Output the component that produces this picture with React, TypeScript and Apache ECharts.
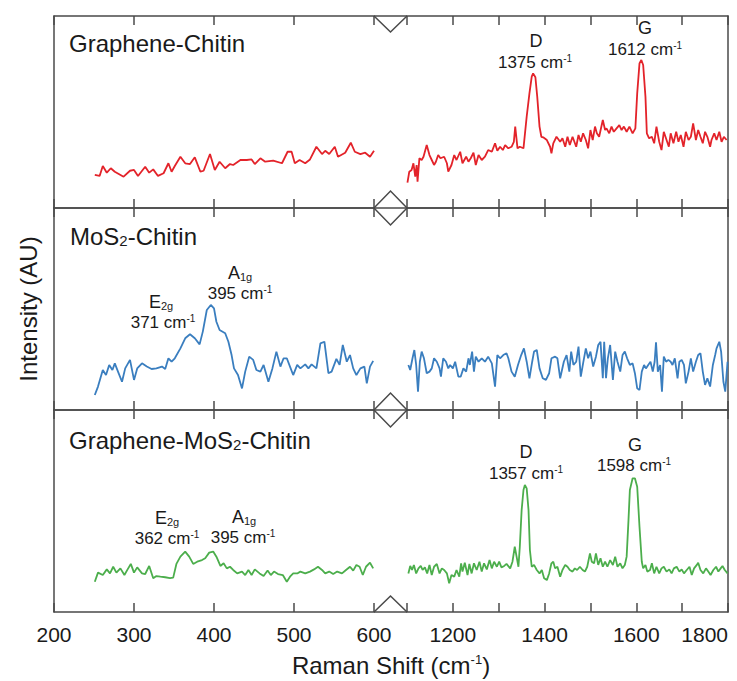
import React, { useEffect, useRef } from 'react';
import * as echarts from 'echarts';

const FONT = '"Liberation Sans", Arial, Helvetica, sans-serif';
const TEXT = '#1a1a1a';
const FRAME = '#4a4a4a';

// Graphene-Chitin
const gcLeft: [number, number][] = [
  [251,17.2],[257,16.7],[261,21.9],[266,18.4],[271,20.7],[276,18.9],[287,16.3],[295,19.4],[300,19.8],[305,16.7],
  [314,21.5],[319,18.4],[324,20.1],[330,16.7],[337,18.1],[343,23.3],[347,18.9],[351,21.9],[358,26.7],[364,23.3],
  [370,22.9],[376,26.4],[383,18.9],[387,19.4],[395,28.1],[401,19.8],[407,24.1],[414,20.7],[420,22.9],[424,22.4],
  [433,25],[441,25],[447,25.3],[451,22.9],[458,25.9],[464,24.1],[474,24.7],[485,23.3],[492,29.3],[497,29.3],
  [501,23.3],[507,25],[514,23.3],[520,25.3],[528,31.9],[535,28.1],[539,29.8],[544,28.1],[551,31.9],[555,26.7],
  [564,28.8],[571,34],[576,29.3],[583,28.1],[589,28.8],[595,26.7],[600,29.8]
];
const gcRight: [number, number][] = [
  [1101,13.2],[1105,18.9],[1110,19.8],[1114,23.3],[1118,16.3],[1121,22.4],[1123,13.7],[1127,25.9],[1132,25],[1136,26.7],
  [1143,32.8],[1149,27.6],[1154,25],[1159,22.4],[1163,24.1],[1168,27.6],[1173,25.9],[1181,26.7],[1187,23.3],[1190,18.9],
  [1197,22.4],[1203,27.6],[1208,25],[1216,29.3],[1221,23.3],[1229,26.7],[1234,24.1],[1239,25.9],[1245,28.8],[1250,22.4],
  [1256,27.6],[1263,25],[1270,26.7],[1277,30.2],[1285,29.3],[1292,33.7],[1297,29.8],[1303,31.9],[1309,30.2],[1314,32.8],
  [1321,31.1],[1328,31.9],[1333,34.5],[1336,42.4],[1341,31.1],[1346,31.9],[1354,31.1],[1361,47.6],[1367,59.7],[1372,68.4],
  [1375,70.1],[1380,68.1],[1384,58],[1389,42.4],[1393,37.1],[1397,36.8],[1405,35.4],[1412,31.9],[1415,28.5],[1419,33.7],
  [1426,37.1],[1434,34.5],[1439,36.3],[1445,31.9],[1450,37.1],[1455,32.8],[1461,37.1],[1469,31.9],[1474,38],[1479,34.5],
  [1484,38.9],[1490,35.4],[1495,31.1],[1500,40.6],[1505,35.4],[1510,42.4],[1514,38.9],[1519,37.1],[1527,45.8],[1532,40.6],
  [1535,41.5],[1541,38.9],[1546,42.4],[1551,39.7],[1557,41.5],[1563,43.2],[1568,40.6],[1573,42.4],[1579,39.7],[1585,42.4],
  [1592,38.9],[1598,41.5],[1602,59.7],[1607,75.3],[1611,77.1],[1615,74.5],[1620,58],[1623,38.9],[1628,36.3],[1634,37.1],
  [1639,33.7],[1644,42.4],[1650,34.5],[1655,30.2],[1660,39.7],[1666,35.4],[1671,31.9],[1675,38.9],[1681,33.7],[1687,39.7],
  [1692,34.5],[1697,38],[1703,31.9],[1708,39.7],[1714,35.4],[1719,37.1],[1724,44.1],[1730,35.4],[1735,40.6],[1740,37.1],
  [1745,33.7],[1750,39.7],[1755,37.1],[1761,31.9],[1764,35.4],[1770,38.9],[1775,35.4],[1781,39.7],[1786,34.5],[1791,37.1],
  [1797,35.4]
];

// MoS2-Chitin
const msLeft: [number, number][] = [
  [251,7.4],[255,11.6],[261,19.8],[265,17.3],[269,22.3],[273,19.8],[276,23.1],[280,19],[285,14],[289,20.6],
  [295,24.8],[300,14.9],[304,20.6],[310,23.1],[316,21.5],[322,20.3],[328,20.6],[335,21.5],[339,20.3],[343,25.6],
  [347,23.9],[351,25.6],[358,30.5],[364,35.5],[370,37.5],[376,35.5],[382,32.5],[386,38.8],[391,49.5],[396,52],
  [400,50.3],[403,43.7],[407,39.6],[414,38],[418,33.8],[422,27.2],[425,20.6],[430,17.3],[435,10.7],[439,19],
  [444,26.4],[449,24.8],[453,19.8],[458,19],[462,22.3],[468,14],[473,20.6],[478,28.9],[483,21.5],[487,25.6],
  [491,25.6],[495,21.5],[499,17.3],[504,22.3],[508,20.6],[514,22.6],[518,20.6],[522,22.6],[528,20.6],[533,33],
  [538,33.8],[543,18.2],[547,19],[553,25.3],[557,22.3],[561,32.2],[566,23.9],[570,27.2],[574,20.6],[578,17.3],
  [583,20.6],[588,21.5],[591,13.2],[595,21.5],[599,24.3]
];
const msRight: [number, number][] = [
  [1103,22.3],[1107,19.8],[1112,25.6],[1116,29.7],[1120,22.3],[1124,9.1],[1128,23.9],[1132,28.9],[1137,25.6],[1143,18.2],
  [1149,19],[1154,20.6],[1159,25.6],[1165,23.9],[1171,20.6],[1174,16.5],[1179,25.6],[1185,23.9],[1190,20.6],[1194,22.3],
  [1200,20.6],[1205,23.9],[1212,16.5],[1217,16.5],[1223,20.6],[1229,19],[1234,25.6],[1237,22.3],[1242,28.9],[1246,19],
  [1250,26.4],[1256,23.9],[1263,25.6],[1270,23.9],[1277,26.4],[1285,23.1],[1292,11.6],[1297,27.2],[1303,25.6],[1310,27.2],
  [1317,28.1],[1321,25.6],[1328,19],[1335,16.5],[1342,22.3],[1349,27.2],[1355,30.5],[1361,23.9],[1367,15.7],[1373,23.9],
  [1377,28.9],[1383,29.7],[1389,20.6],[1396,15.7],[1403,14.9],[1410,18.2],[1415,25.6],[1423,26.4],[1428,25.6],[1434,15.7],
  [1438,19.8],[1442,23.9],[1448,27.2],[1454,19],[1458,28.9],[1463,22.3],[1469,23.9],[1474,31.4],[1479,16.5],[1484,23.1],
  [1490,30.5],[1495,25.6],[1500,28.9],[1506,21.5],[1512,26.4],[1517,32.2],[1522,33.8],[1527,15.7],[1530,33.8],[1534,15.7],
  [1538,25.6],[1543,32.2],[1549,14.9],[1554,28.9],[1559,23.9],[1565,19],[1570,27.2],[1575,28.9],[1580,25.6],[1586,22.3],
  [1592,23.1],[1597,18.2],[1602,10.7],[1607,9.9],[1612,19],[1617,22.3],[1621,20.6],[1626,22.3],[1631,23.9],[1636,19],
  [1640,23.9],[1643,33.5],[1647,19],[1652,22.3],[1656,9.1],[1660,26.4],[1665,23.9],[1670,24.8],[1675,23.9],[1679,22.3],
  [1684,25.6],[1690,15.7],[1694,23.9],[1699,24.8],[1704,22.3],[1708,13.2],[1714,19],[1719,25.6],[1724,19],[1730,23.9],
  [1735,27.2],[1740,28.1],[1745,19],[1750,12.4],[1755,15.7],[1761,11.6],[1767,22.3],[1772,27.2],[1775,30.5],[1781,33.8],
  [1785,28.9],[1790,14],[1794,9.1],[1799,23.9]
];

// Graphene-MoS2-Chitin
const gmLeft: [number, number][] = [
  [251,15],[255,19.5],[261,18.3],[266,21.1],[270,19.1],[274,22.4],[278,19.5],[283,21.6],[288,18.3],[292,21.1],
  [296,23.8],[300,19.5],[304,22.1],[310,19.1],[314,18.8],[319,22.8],[324,16.7],[328,17.8],[333,17.5],[339,17.2],
  [345,16.8],[349,17],[353,23.8],[358,27.4],[364,29.9],[369,27.4],[374,23.8],[379,24.9],[385,25.7],[389,26.6],
  [394,29.4],[399,29.9],[403,27.4],[408,22.8],[412,24.1],[416,21.6],[420,22.4],[424,20.8],[429,19.1],[435,20],
  [439,18.3],[443,20.8],[447,18.3],[451,21.1],[457,19.1],[462,17.8],[467,20.5],[471,18.3],[475,20],[480,18.8],
  [486,18.3],[491,15],[495,17.5],[499,19.1],[504,19.1],[508,20],[514,19.1],[520,20],[525,21.1],[530,22.4],
  [535,20.8],[539,19.1],[544,20],[549,18.8],[554,20],[560,19.1],[565,20.8],[570,22.4],[574,20.5],[578,23.3],
  [582,22.4],[586,18.3],[590,22.4],[595,24.4],[599,21.6]
];
const gmRight: [number, number][] = [
  [1103,19.1],[1107,22.8],[1111,20.8],[1115,23.3],[1120,19.1],[1125,21.6],[1130,22.8],[1134,20.8],[1139,22.1],[1144,19.1],
  [1149,23.3],[1154,18.3],[1159,22.4],[1165,23.8],[1171,19.1],[1176,21.6],[1181,20.8],[1187,19.1],[1192,14.2],[1197,18.3],
  [1203,17.5],[1208,20.8],[1214,17.5],[1218,24.1],[1221,20],[1226,24.4],[1232,18.3],[1236,23.8],[1241,19.1],[1246,24.1],
  [1252,20.8],[1258,24.9],[1263,20],[1268,24.1],[1274,21.1],[1280,25.7],[1285,21.6],[1290,24.9],[1296,22.4],[1301,24.9],
  [1306,22.1],[1312,22.8],[1317,23.8],[1325,21.6],[1330,24.9],[1335,32.3],[1339,27.4],[1343,22.4],[1346,32.3],[1350,50.5],
  [1354,60.4],[1357,62.9],[1361,61.2],[1365,50.5],[1368,30.7],[1372,22.4],[1377,23.3],[1383,20.8],[1389,19.1],[1394,20.8],
  [1399,16.7],[1405,15.8],[1410,19.1],[1415,24.1],[1419,24.9],[1423,21.6],[1428,22.4],[1434,17.5],[1439,20.8],[1445,23.3],
  [1450,22.4],[1455,20.8],[1461,20],[1466,21.6],[1471,20.8],[1477,22.4],[1483,20.8],[1488,20],[1493,22.4],[1499,29],
  [1503,24.9],[1508,24.1],[1512,29],[1517,23.3],[1522,26.6],[1527,22.4],[1532,24.9],[1537,22.4],[1543,25.7],[1549,23.3],
  [1554,27.4],[1559,22.4],[1565,24.1],[1570,21.6],[1575,23.3],[1579,27.4],[1583,45.5],[1586,60.4],[1592,66.2],[1597,66.2],
  [1602,62],[1607,42.2],[1612,24.9],[1615,21.6],[1620,23.3],[1624,20],[1630,20.8],[1634,24.1],[1639,19.1],[1644,22.4],
  [1650,19.1],[1655,21.6],[1660,22.4],[1666,20],[1672,21.1],[1677,19.1],[1682,21.6],[1688,22.4],[1694,20],[1699,21.1],
  [1704,19.1],[1710,20.8],[1716,22.4],[1721,18.3],[1726,21.6],[1732,23.3],[1735,24.4],[1740,20.8],[1746,19.1],[1752,21.6],
  [1757,20],[1762,18.3],[1768,20.8],[1774,22.4],[1779,20],[1784,21.6],[1788,22.8],[1793,20.8],[1799,19.1]
];

const leftRange = [200, 600];
const rightRange = [1100, 1800];
const rightTickLabels = [1200, 1400, 1600, 1800];
const panelColors = ['#e3232a', '#3a7ebf', '#4cae4c'];
const panelData = [
  [gcLeft, gcRight],
  [msLeft, msRight],
  [gmLeft, gmRight],
];

// layout (pixels)
const PANEL_TOP = [16, 208, 410];
const PANEL_H = [192, 202, 202];
const BOTTOM = 612;
const LX = 54, LW = 320, RX = 407, RW = 321;
const GAP_L = LX + LW; // 374
const GAP_M = (GAP_L + RX) / 2;

const App: React.FC = () => {
  const ref = useRef<HTMLDivElement>(null);

  useEffect(() => {
    if (!ref.current) return;
    const chart = echarts.init(ref.current, undefined, { renderer: 'svg' });

    const lineStyle = { color: FRAME, width: 1.5 };
    const grids: any[] = [];
    const xAxes: any[] = [];
    const yAxes: any[] = [];
    const series: any[] = [];

    for (let p = 0; p < 3; p++) {
      for (let s = 0; s < 2; s++) {
        const g = p * 2 + s;
        const isLeft = s === 0;
        grids.push({
          left: isLeft ? LX : RX,
          top: PANEL_TOP[p],
          width: isLeft ? LW : RW,
          height: PANEL_H[p],
        });
        const range = isLeft ? leftRange : rightRange;
        const showLabels = p === 2;
        const base = {
          type: 'value',
          gridIndex: g,
          min: range[0],
          max: range[1],
          interval: 100,
          axisLine: { show: true, onZero: false, lineStyle },
          axisTick: { show: true, inside: true, length: 9, lineStyle },
          splitLine: { show: false },
        };
        xAxes.push({
          ...base,
          position: 'bottom',
          axisLabel: {
            show: showLabels,
            margin: 12,
            fontSize: 21,
            fontFamily: FONT,
            color: TEXT,
            alignMaxLabel: isLeft ? undefined : 'right',
            formatter: (v: number) =>
              isLeft ? String(v) : rightTickLabels.includes(v) ? String(v) : '',
          },
        });
        xAxes.push({
          ...base,
          position: 'top',
          axisLabel: { show: false },
        });
        yAxes.push({
          type: 'value',
          gridIndex: g,
          min: 0,
          max: 100,
          position: isLeft ? 'left' : 'right',
          axisLine: { show: true, onZero: false, lineStyle },
          axisTick: { show: false },
          axisLabel: { show: false },
          splitLine: { show: false },
          ...(p === 1 && isLeft
            ? {
                name: 'Intensity (AU)',
                nameLocation: 'middle',
                nameGap: 14,
                nameTextStyle: { fontSize: 24, fontFamily: FONT, color: TEXT },
              }
            : {}),
        });
        series.push({
          type: 'line',
          xAxisIndex: g * 2,
          yAxisIndex: g,
          data: panelData[p][s],
          showSymbol: false,
          symbol: 'none',
          lineStyle: { color: panelColors[p], width: 1.8 },
          itemStyle: { color: panelColors[p] },
        });
      }
    }

    const stroke = { stroke: FRAME, lineWidth: 1.5, fill: 'none' };
    const graphics: any[] = [];
    // frame across the break
    [PANEL_TOP[0], PANEL_TOP[1], PANEL_TOP[2], BOTTOM].forEach((y) => {
      graphics.push({ type: 'line', shape: { x1: GAP_L, y1: y, x2: RX, y2: y }, style: stroke });
    });
    // break marks
    graphics.push({
      type: 'polyline',
      shape: { points: [[GAP_L, PANEL_TOP[0]], [GAP_M, PANEL_TOP[0] + 16], [RX, PANEL_TOP[0]]] },
      style: stroke,
    });
    [PANEL_TOP[1], PANEL_TOP[2]].forEach((y) => {
      graphics.push({
        type: 'polygon',
        shape: { points: [[GAP_L, y], [GAP_M, y - 17], [RX, y], [GAP_M, y + 17]] },
        style: stroke,
      });
    });
    graphics.push({
      type: 'polyline',
      shape: { points: [[GAP_L, BOTTOM], [GAP_M, BOTTOM - 16], [RX, BOTTOM]] },
      style: stroke,
    });

    const txt = (x: number, y: number, text: string, rich: any, align = 'center') => ({
      type: 'text',
      x,
      y,
      style: {
        text,
        rich,
        fontFamily: FONT,
        fill: TEXT,
        align,
        verticalAlign: 'middle',
      },
    });

    const titleRich = {
      t: { fontSize: 24, lineHeight: 24, verticalAlign: 'bottom', fontFamily: FONT, fill: TEXT },
      b: { fontSize: 15, lineHeight: 10, verticalAlign: 'bottom', fontFamily: FONT, fill: TEXT },
    };
    const numRich = {
      n: { fontSize: 17, lineHeight: 17, fontFamily: FONT, fill: TEXT },
      s: { fontSize: 10, lineHeight: 10, verticalAlign: 'top', fontFamily: FONT, fill: TEXT },
    };
    const letterRich = {
      m: { fontSize: 18, lineHeight: 18, verticalAlign: 'bottom', fontFamily: FONT, fill: TEXT },
      b: { fontSize: 11, lineHeight: 7, verticalAlign: 'bottom', fontFamily: FONT, fill: TEXT },
    };

    graphics.push(txt(69, 43, '{t|Graphene-Chitin}', titleRich, 'left'));
    graphics.push(txt(70, 236, '{t|MoS}{b|2}{t|-Chitin}', titleRich, 'left'));
    graphics.push(txt(69, 440, '{t|Graphene-MoS}{b|2}{t|-Chitin}', titleRich, 'left'));

    // annotations
    graphics.push(txt(536, 41, '{m|D}', letterRich));
    graphics.push(txt(535, 62, '{n|1375 cm}{s|-1}', numRich));
    graphics.push(txt(645, 28, '{m|G}', letterRich));
    graphics.push(txt(645, 49, '{n|1612 cm}{s|-1}', numRich));

    graphics.push(txt(161, 302, '{m|E}{b|2g}', letterRich));
    graphics.push(txt(163, 322, '{n|371 cm}{s|-1}', numRich));
    graphics.push(txt(240, 273, '{m|A}{b|1g}', letterRich));
    graphics.push(txt(240, 293, '{n|395 cm}{s|-1}', numRich));

    graphics.push(txt(167, 518, '{m|E}{b|2g}', letterRich));
    graphics.push(txt(167, 538, '{n|362 cm}{s|-1}', numRich));
    graphics.push(txt(244, 517, '{m|A}{b|1g}', letterRich));
    graphics.push(txt(243, 537, '{n|395 cm}{s|-1}', numRich));
    graphics.push(txt(526, 452, '{m|D}', letterRich));
    graphics.push(txt(526, 473, '{n|1357 cm}{s|-1}', numRich));
    graphics.push(txt(635, 445, '{m|G}', letterRich));
    graphics.push(txt(634, 465, '{n|1598 cm}{s|-1}', numRich));

    // x axis title
    graphics.push(
      txt(391, 665, '{t|Raman Shift (cm}{s|-1}{t|)}', {
        t: { fontSize: 24, lineHeight: 24, fontFamily: FONT, fill: TEXT },
        s: { fontSize: 13, lineHeight: 13, verticalAlign: 'top', fontFamily: FONT, fill: TEXT },
      })
    );

    chart.setOption({
      animation: false,
      backgroundColor: '#ffffff',
      textStyle: { fontFamily: FONT },
      grid: grids,
      xAxis: xAxes,
      yAxis: yAxes,
      series,
      graphic: graphics,
    });

    return () => chart.dispose();
  }, []);

  return (
    <div
      ref={ref}
      style={{ position: 'absolute', left: 0, top: 0, width: 737, height: 681, background: '#fff' }}
    />
  );
};

export default App;
